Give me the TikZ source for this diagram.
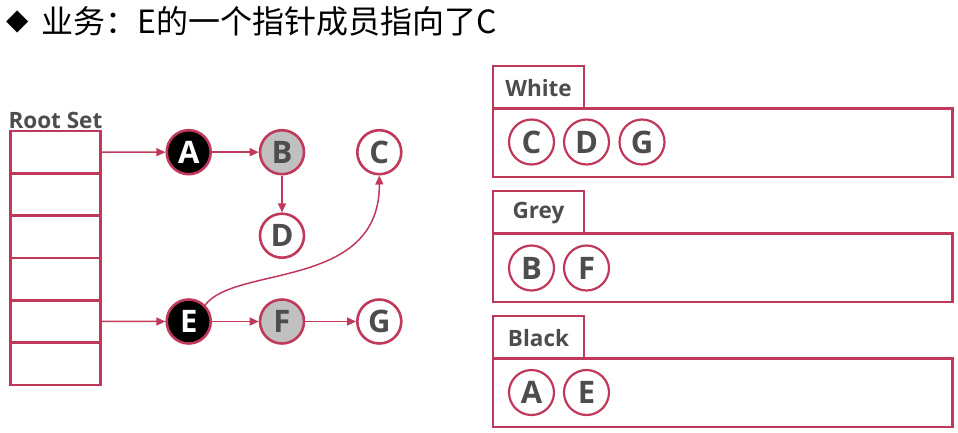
\documentclass[tikz,border=0pt]{standalone}
\usepackage{fontspec}
\setmainfont{Open Sans}
\newfontfamily\cjk{Noto Sans CJK SC}
\newfontfamily\symb{DejaVu Sans}
\usetikzlibrary{arrows.meta}

\definecolor{rose}{RGB}{192,57,90}
\definecolor{ink}{RGB}{77,77,77}
\definecolor{midgrey}{RGB}{192,192,192}

\tikzset{
  obj/.style={circle, draw=rose, line width=2.6pt, minimum size=44pt, inner sep=0pt,
    font=\fontsize{31}{31}\selectfont\bfseries, text=ink, fill=white},
  blackobj/.style={obj, fill=black, text=white},
  greyobj/.style={obj, fill=midgrey},
  setobj/.style={obj, minimum size=45pt, line width=2.2pt},
  ptr/.style={rose, line width=1.5pt, -{Triangle[length=9pt,width=8pt]}},
  cell/.style={draw=rose, line width=2.6pt, minimum width=90pt, minimum height=42.3pt, inner sep=0pt},
  tag/.style={font=\fontsize{22.5}{22.5}\selectfont\bfseries, text=ink}
}

\begin{document}
\begin{tikzpicture}[x=1pt, y=-1pt]
  \useasboundingbox (0,0) rectangle (958,432);

  % title
  \node[font=\symb\fontsize{29}{29}\selectfont] (bullet) at (18,22) {◆};
  \node[anchor=west, font=\cjk\fontsize{32}{32}\selectfont] (title) at (38,21) {业务：E的一个指针成员指向了C};

  % root set
  \node[tag, anchor=south west] (rootlbl) at (5,132) {Root Set};
  \foreach \i in {1,...,6} {
    \node[cell] (r\i) at (55.3, 109.8+42.33*\i) {};
  }

  % objects
  \node[blackobj] (A) at (188.7,152.2) {A};
  \node[greyobj]  (B) at (282,152.2) {B};
  \node[obj]      (C) at (379.3,152.2) {C};
  \node[obj]      (D) at (282,235.7) {D};
  \node[blackobj] (E) at (188.7,321.5) {E};
  \node[greyobj]  (F) at (282,321.5) {F};
  \node[obj]      (G) at (379.3,321.5) {G};

  \draw[ptr] (r1.east) -- (A);
  \draw[ptr] (r5.east) -- (E);
  \draw[ptr] (A) -- (B);
  \draw[ptr] (B) -- (D);
  \draw[ptr] (E) -- (F);
  \draw[ptr] (F) -- (G);
  \draw[ptr] (E.north east) .. controls (235,265) and (380,290) .. (C.south);

  % colour sets
  \foreach \name/\top in {White/66, Grey/191, Black/316} {
    \draw[rose, line width=2.6pt] (493,\top) rectangle (584,\top+42.5);
    \draw[rose, line width=2.6pt] (493,\top+42.5) rectangle (952.5,\top+111);
    \node[tag] (tag\name) at (538.5,\top+22) {\name};
  }
  \node[setobj] (wC) at (531.5,142) {C};
  \node[setobj] (wD) at (586.5,142) {D};
  \node[setobj] (wG) at (642,142) {G};
  \node[setobj] (gB) at (531.5,268) {B};
  \node[setobj] (gF) at (586.5,268) {F};
  \node[setobj] (kA) at (531.5,392.5) {A};
  \node[setobj] (kE) at (586.5,392.5) {E};
\end{tikzpicture}
\end{document}
